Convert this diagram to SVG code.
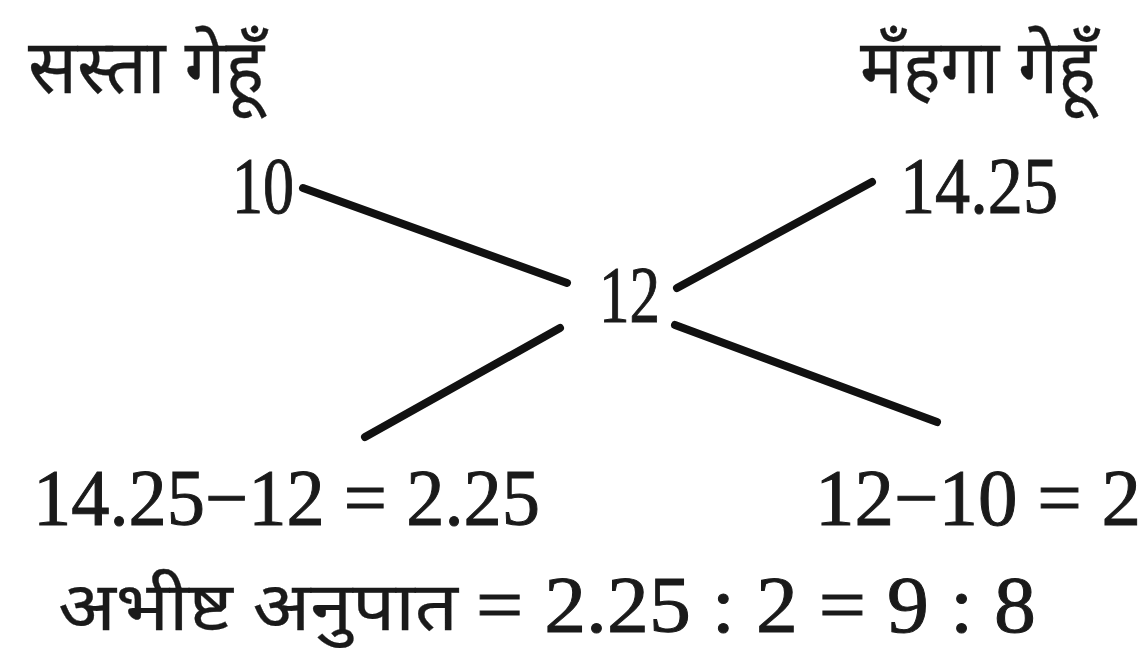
<svg xmlns="http://www.w3.org/2000/svg" width="1143" height="651" viewBox="0 0 1143 651">
  <style>
    .hi { font-family: "Noto Sans Devanagari", "Lohit Devanagari", "Noto Sans", "Noto Serif Devanagari", sans-serif; fill: #1a1a1a; stroke: #1a1a1a; stroke-width: 0.3; }
    .top { font-size: 76px; }
    .bot { font-size: 68px; }
    .num { font-family: "Liberation Serif", "Times New Roman", serif; font-size: 80px; fill: #1a1a1a; stroke: #1a1a1a; stroke-width: 1; }
    .conn { stroke: #111; stroke-width: 8; stroke-linecap: round; fill: none; }
  </style>
  <rect width="1143" height="651" fill="#ffffff"/>
  <g id="head-cheap">
    <text class="hi top" x="28" y="93" textLength="236" lengthAdjust="spacingAndGlyphs">सस्ता गेहूँ</text>
  </g>
  <g id="head-costly">
    <text class="hi top" x="860" y="93" textLength="236" lengthAdjust="spacingAndGlyphs">मँहगा गेहूँ</text>
  </g>
  <g id="node-10">
    <text class="num" x="232" y="213" textLength="62" lengthAdjust="spacingAndGlyphs">10</text>
  </g>
  <g id="node-1425">
    <text class="num" x="900" y="213" textLength="158" lengthAdjust="spacingAndGlyphs">14.25</text>
  </g>
  <g id="node-12">
    <text class="num" x="599" y="322" textLength="61" lengthAdjust="spacingAndGlyphs">12</text>
  </g>
  <g id="connectors">
    <line class="conn" x1="303" y1="188" x2="567" y2="283"/>
    <line class="conn" x1="677" y1="288" x2="872" y2="182"/>
    <line class="conn" x1="560" y1="328" x2="365" y2="437"/>
    <line class="conn" x1="675" y1="325" x2="937" y2="422"/>
  </g>
  <g id="diff-left">
    <text class="num" x="33" y="525" textLength="507" lengthAdjust="spacingAndGlyphs">14.25−12 = 2.25</text>
  </g>
  <g id="diff-right">
    <text class="num" x="815" y="525" textLength="326" lengthAdjust="spacingAndGlyphs">12−10 = 2</text>
  </g>
  <g id="result">
    <text class="hi bot" x="58" y="630" textLength="400" lengthAdjust="spacingAndGlyphs">अभीष्ट अनुपात</text>
    <text class="num" x="476" y="632" textLength="560" lengthAdjust="spacingAndGlyphs">= 2.25 : 2 = 9 : 8</text>
  </g>
</svg>
